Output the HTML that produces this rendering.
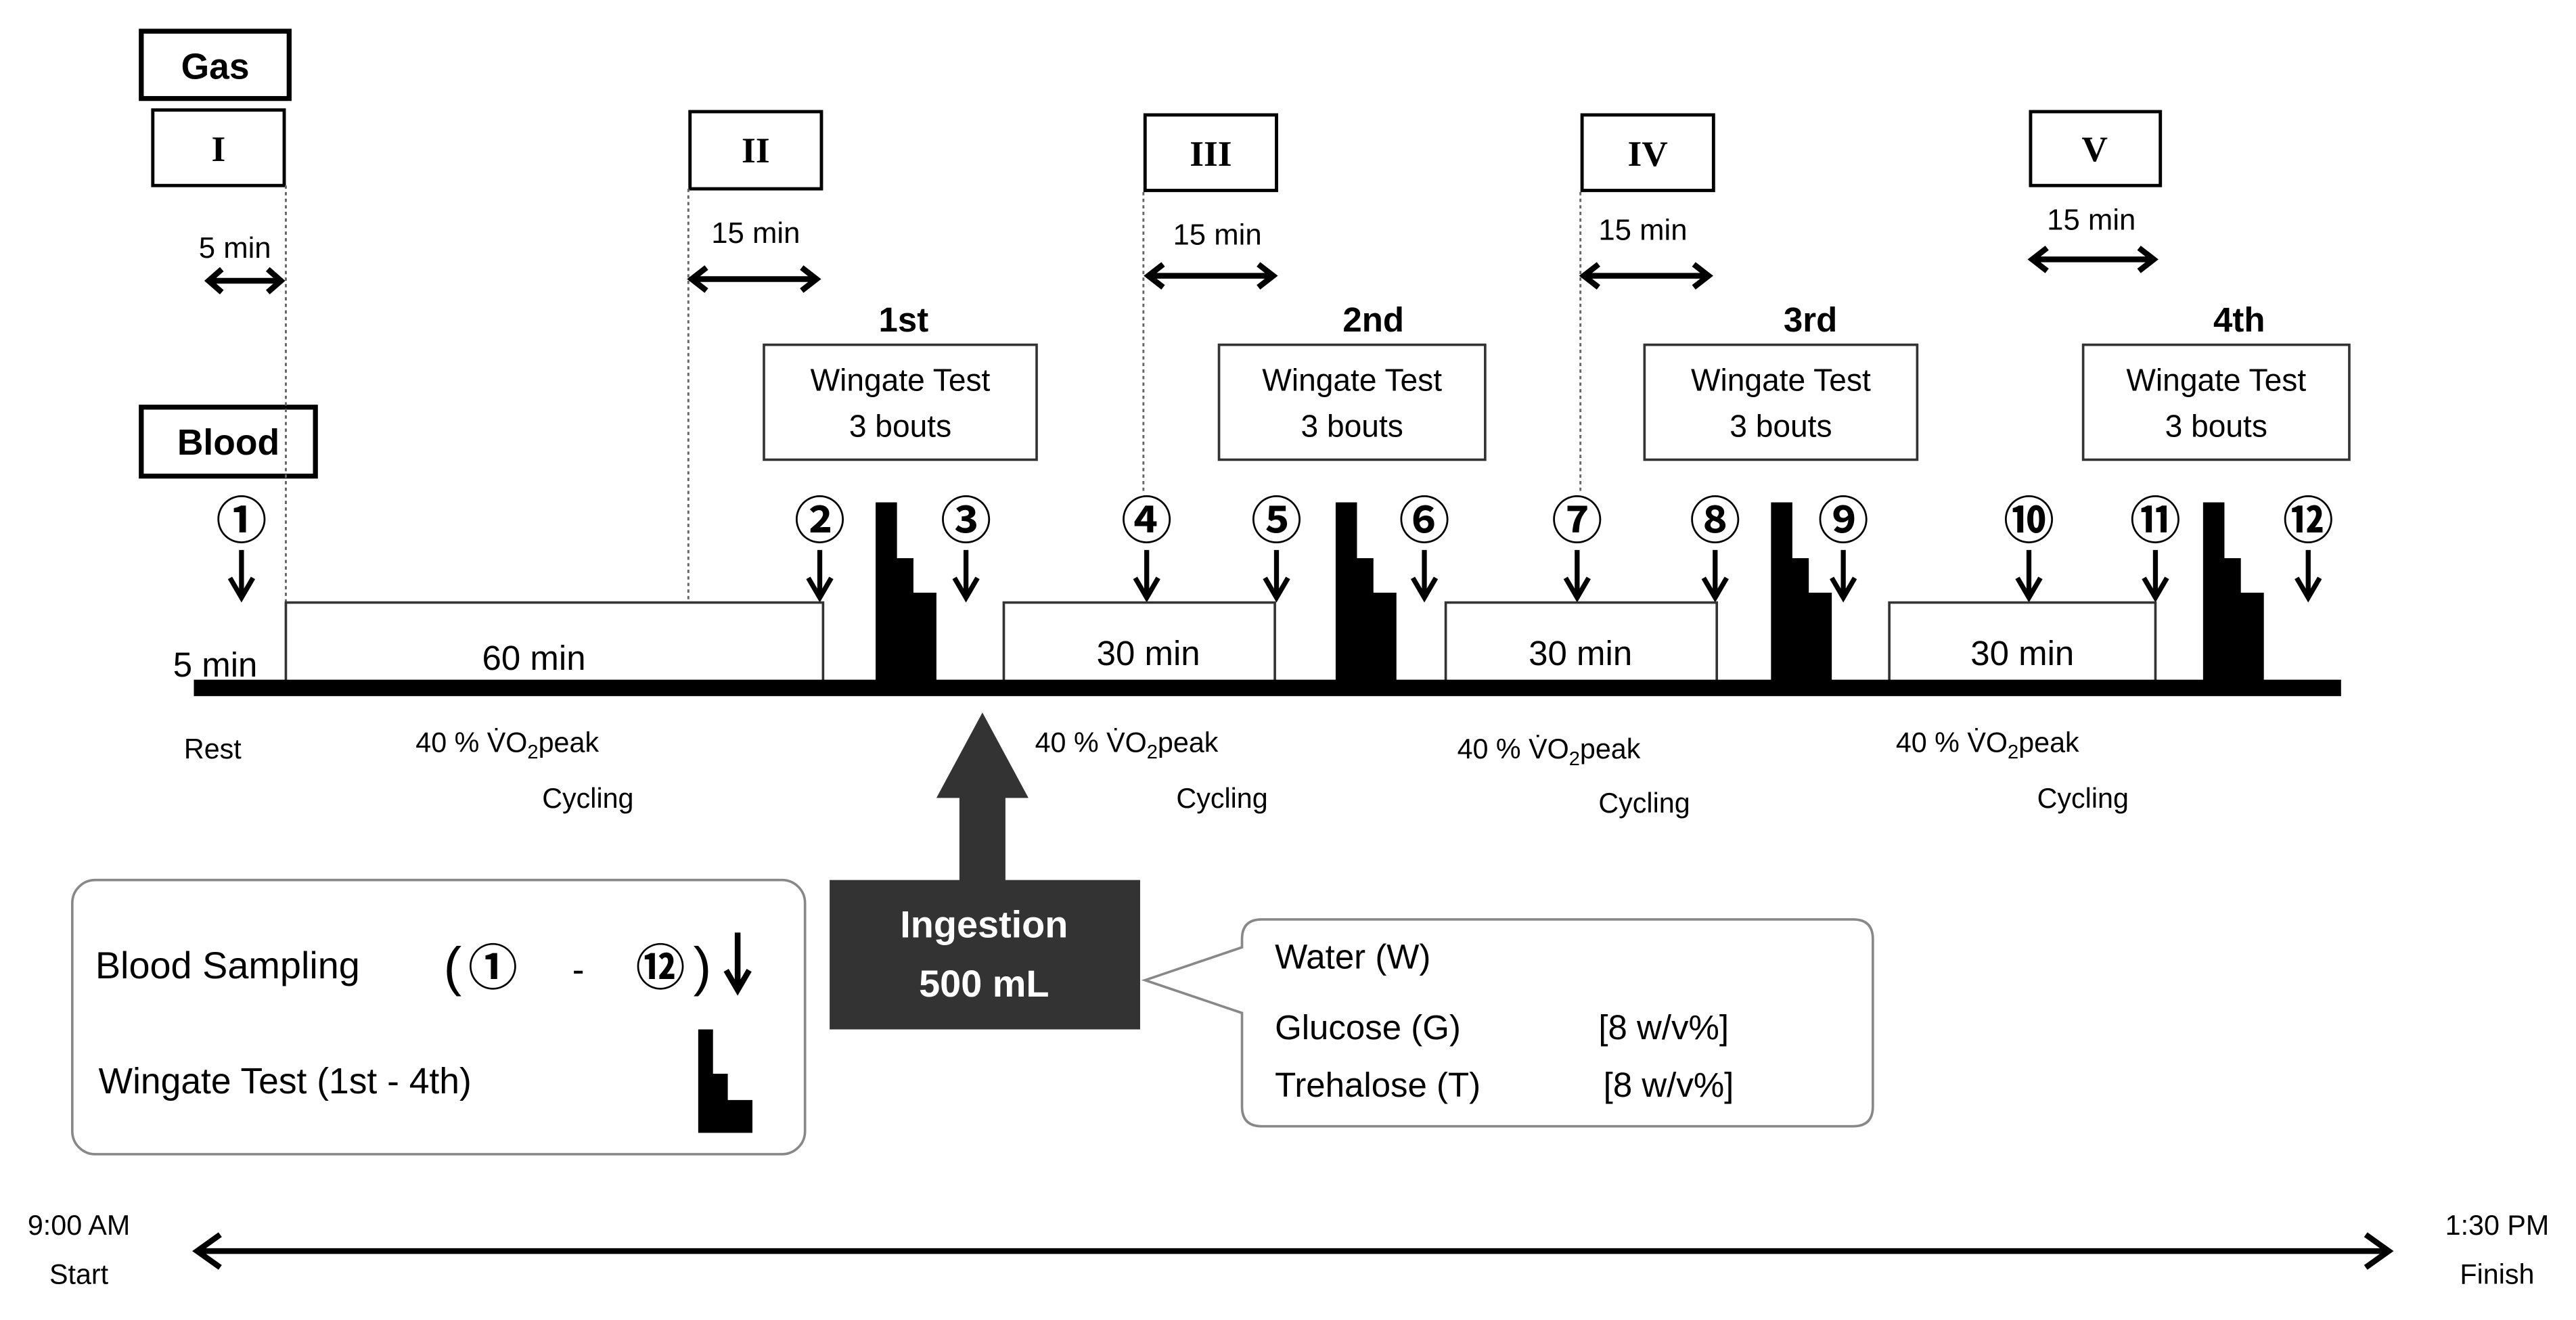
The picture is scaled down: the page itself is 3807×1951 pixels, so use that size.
<!DOCTYPE html>
<html><head><meta charset="utf-8"><style>html,body{margin:0;padding:0;background:#fff}svg{display:block}</style></head><body>
<svg width="3807" height="1951" viewBox="0 0 1568 804" preserveAspectRatio="none" xmlns="http://www.w3.org/2000/svg" font-family="Liberation Sans, sans-serif">
<rect width="1568" height="804" fill="#fff"/>
<rect x="86" y="19" width="90" height="41" fill="none" stroke="#000" stroke-width="3"/>
<text x="131" y="48" font-size="22" font-weight="bold" text-anchor="middle">Gas</text>
<rect x="86" y="248" width="106" height="42" fill="none" stroke="#000" stroke-width="3"/>
<text x="139" y="277" font-size="22" font-weight="bold" text-anchor="middle">Blood</text>
<g fill="none" stroke="#000" stroke-width="2">
<rect x="93" y="67" width="80" height="46"/>
<rect x="420" y="68" width="80" height="47"/>
<rect x="697" y="70" width="80" height="46"/>
<rect x="963" y="70" width="80" height="46"/>
<rect x="1236" y="68" width="79" height="45"/>
</g>
<g font-family="Liberation Serif, serif" font-size="22" font-weight="bold" text-anchor="middle">
<text x="133" y="98">I</text><text x="460" y="99">II</text><text x="737" y="101">III</text><text x="1003" y="101">IV</text><text x="1275" y="98">V</text>
</g>
<g stroke="#666" stroke-width="1.2" stroke-dasharray="2,2">
<line x1="174" y1="113" x2="174" y2="414"/>
<line x1="419" y1="115" x2="419" y2="366"/>
<line x1="696" y1="117" x2="696" y2="300"/>
<line x1="962" y1="117" x2="962" y2="300"/>
</g>
<g font-size="18" text-anchor="middle">
<text x="143" y="157">5 min</text>
<text x="460" y="148">15 min</text>
<text x="741" y="149">15 min</text>
<text x="1000" y="146">15 min</text>
<text x="1273" y="140">15 min</text>
</g>
<g stroke="#000" stroke-width="3.5" fill="none">
<path d="M127 171H171M135 164L127 171L135 178M163 164L171 171L163 178"/>
<path d="M421 170H497M430 163L421 170L430 177M488 163L497 170L488 177"/>
<path d="M699 168H775M708 161L699 168L708 175M766 161L775 168L766 175"/>
<path d="M964 168H1040M973 161L964 168L973 175M1031 161L1040 168L1031 175"/>
<path d="M1237 158H1311M1246 151L1237 158L1246 165M1302 151L1311 158L1302 165"/>
</g>
<g font-size="21" font-weight="bold" text-anchor="middle">
<text x="550" y="202">1st</text><text x="836" y="202">2nd</text><text x="1102" y="202">3rd</text><text x="1363" y="202">4th</text>
</g>
<g fill="none" stroke="#333" stroke-width="1.5">
<rect x="465" y="210" width="166" height="70"/>
<rect x="742" y="210" width="162" height="70"/>
<rect x="1001" y="210" width="166" height="70"/>
<rect x="1268" y="210" width="162" height="70"/>
</g>
<g font-size="19" text-anchor="middle">
<text x="548" y="238">Wingate Test</text><text x="548" y="266">3 bouts</text>
<text x="823" y="238">Wingate Test</text><text x="823" y="266">3 bouts</text>
<text x="1084" y="238">Wingate Test</text><text x="1084" y="266">3 bouts</text>
<text x="1349" y="238">Wingate Test</text><text x="1349" y="266">3 bouts</text>
</g>
<g font-size="31" font-weight="bold" text-anchor="middle" font-family="Liberation Sans, 'Noto Sans CJK JP', sans-serif">
<text x="147" y="328">①</text><text x="499" y="328">②</text><text x="588" y="328">③</text><text x="698" y="328">④</text>
<text x="777" y="328">⑤</text><text x="867" y="328">⑥</text><text x="960" y="328">⑦</text><text x="1044" y="328">⑧</text>
<text x="1122" y="328">⑨</text><text x="1235" y="328">⑩</text><text x="1312" y="328">⑪</text><text x="1405" y="328">⑫</text>
</g>
<g stroke="#000" stroke-width="3" fill="none">
<path d="M147 335V364M140 352L147 364L154 352"/>
<path d="M499 335V364M492 352L499 364L506 352"/>
<path d="M588 335V364M581 352L588 364L595 352"/>
<path d="M698 335V364M691 352L698 364L705 352"/>
<path d="M777 335V364M770 352L777 364L784 352"/>
<path d="M867 335V364M860 352L867 364L874 352"/>
<path d="M960 335V364M953 352L960 364L967 352"/>
<path d="M1044 335V364M1037 352L1044 364L1051 352"/>
<path d="M1122 335V364M1115 352L1122 364L1129 352"/>
<path d="M1235 335V364M1228 352L1235 364L1242 352"/>
<path d="M1312 335V364M1305 352L1312 364L1319 352"/>
<path d="M1405 335V364M1398 352L1405 364L1412 352"/>
</g>
<g fill="#fff" stroke="#333" stroke-width="1.5">
<rect x="174" y="367" width="327" height="48"/>
<rect x="611" y="367" width="165" height="48"/>
<rect x="880" y="367" width="165" height="48"/>
<rect x="1150" y="367" width="162" height="48"/>
</g>
<g font-size="21" text-anchor="middle">
<text x="325" y="408">60 min</text><text x="699" y="405">30 min</text><text x="962" y="405">30 min</text><text x="1231" y="405">30 min</text>
<text x="131" y="412">5 min</text>
</g>
<g fill="#000">
<path d="M533 306H546V340H556V361H570V418H533Z"/>
<path d="M813 306H826V340H836V361H850V418H813Z"/>
<path d="M1078 306H1091V340H1101V361H1115V418H1078Z"/>
<path d="M1341 306H1354V340H1364V361H1378V418H1341Z"/>
</g>
<rect x="118" y="414" width="1307" height="10" fill="#000"/>
<g font-size="17">
<text x="112" y="462">Rest</text>
<text x="253" y="458">40 % V̇O<tspan font-size="12" dy="4">2</tspan><tspan dy="-4">peak</tspan></text>
<text x="330" y="492">Cycling</text>
<text x="630" y="458">40 % V̇O<tspan font-size="12" dy="4">2</tspan><tspan dy="-4">peak</tspan></text>
<text x="716" y="492">Cycling</text>
<text x="887" y="462">40 % V̇O<tspan font-size="12" dy="4">2</tspan><tspan dy="-4">peak</tspan></text>
<text x="973" y="495">Cycling</text>
<text x="1154" y="458">40 % V̇O<tspan font-size="12" dy="4">2</tspan><tspan dy="-4">peak</tspan></text>
<text x="1240" y="492">Cycling</text>
</g>
<path d="M584 537V486H570L598 434L626 486H612V537Z" fill="#333"/>
<rect x="505" y="536" width="189" height="91" fill="#333"/>
<g font-size="23" font-weight="bold" fill="#fff" text-anchor="middle">
<text x="599" y="571">Ingestion</text><text x="599" y="607">500 mL</text>
</g>
<rect x="44" y="536" width="446" height="167" rx="14" fill="#fff" stroke="#888" stroke-width="1.5"/>
<g font-family="Liberation Sans, 'Noto Sans CJK JP', sans-serif">
<text x="58" y="596" font-size="23">Blood Sampling</text>
<text x="270" y="600" font-size="33">(</text>
<text x="300" y="600" font-size="30" font-weight="bold" text-anchor="middle">①</text>
<text x="352" y="598" font-size="22" text-anchor="middle">-</text>
<text x="402" y="600" font-size="30" font-weight="bold" text-anchor="middle">⑫</text>
<text x="422" y="600" font-size="33">)</text>
</g>
<path d="M449 568V603M442 591L449 603L456 591" stroke="#000" stroke-width="3.5" fill="none"/>
<text x="60" y="666" font-size="22">Wingate Test (1st - 4th)</text>
<path d="M425 627H434V654H443V670H458V690H425Z" fill="#000"/>
<path d="M768 560H1128Q1140 560 1140 572V674Q1140 686 1128 686H768Q756 686 756 674V617L697 597L756 577V572Q756 560 768 560Z" fill="#fff" stroke="#888" stroke-width="1.5"/>
<g font-size="21">
<text x="776" y="590">Water (W)</text>
<text x="776" y="633">Glucose (G)</text><text x="973" y="633">[8 w/v%]</text>
<text x="776" y="668">Trehalose (T)</text><text x="976" y="668">[8 w/v%]</text>
</g>
<path d="M122 762H1452M134 752L120 762L134 772M1440 752L1454 762L1440 772" stroke="#000" stroke-width="3.5" fill="none"/>
<g font-size="17" text-anchor="middle">
<text x="48" y="752">9:00 AM</text><text x="48" y="782">Start</text>
<text x="1520" y="752">1:30 PM</text><text x="1520" y="782">Finish</text>
</g>
</svg>
</body></html>
